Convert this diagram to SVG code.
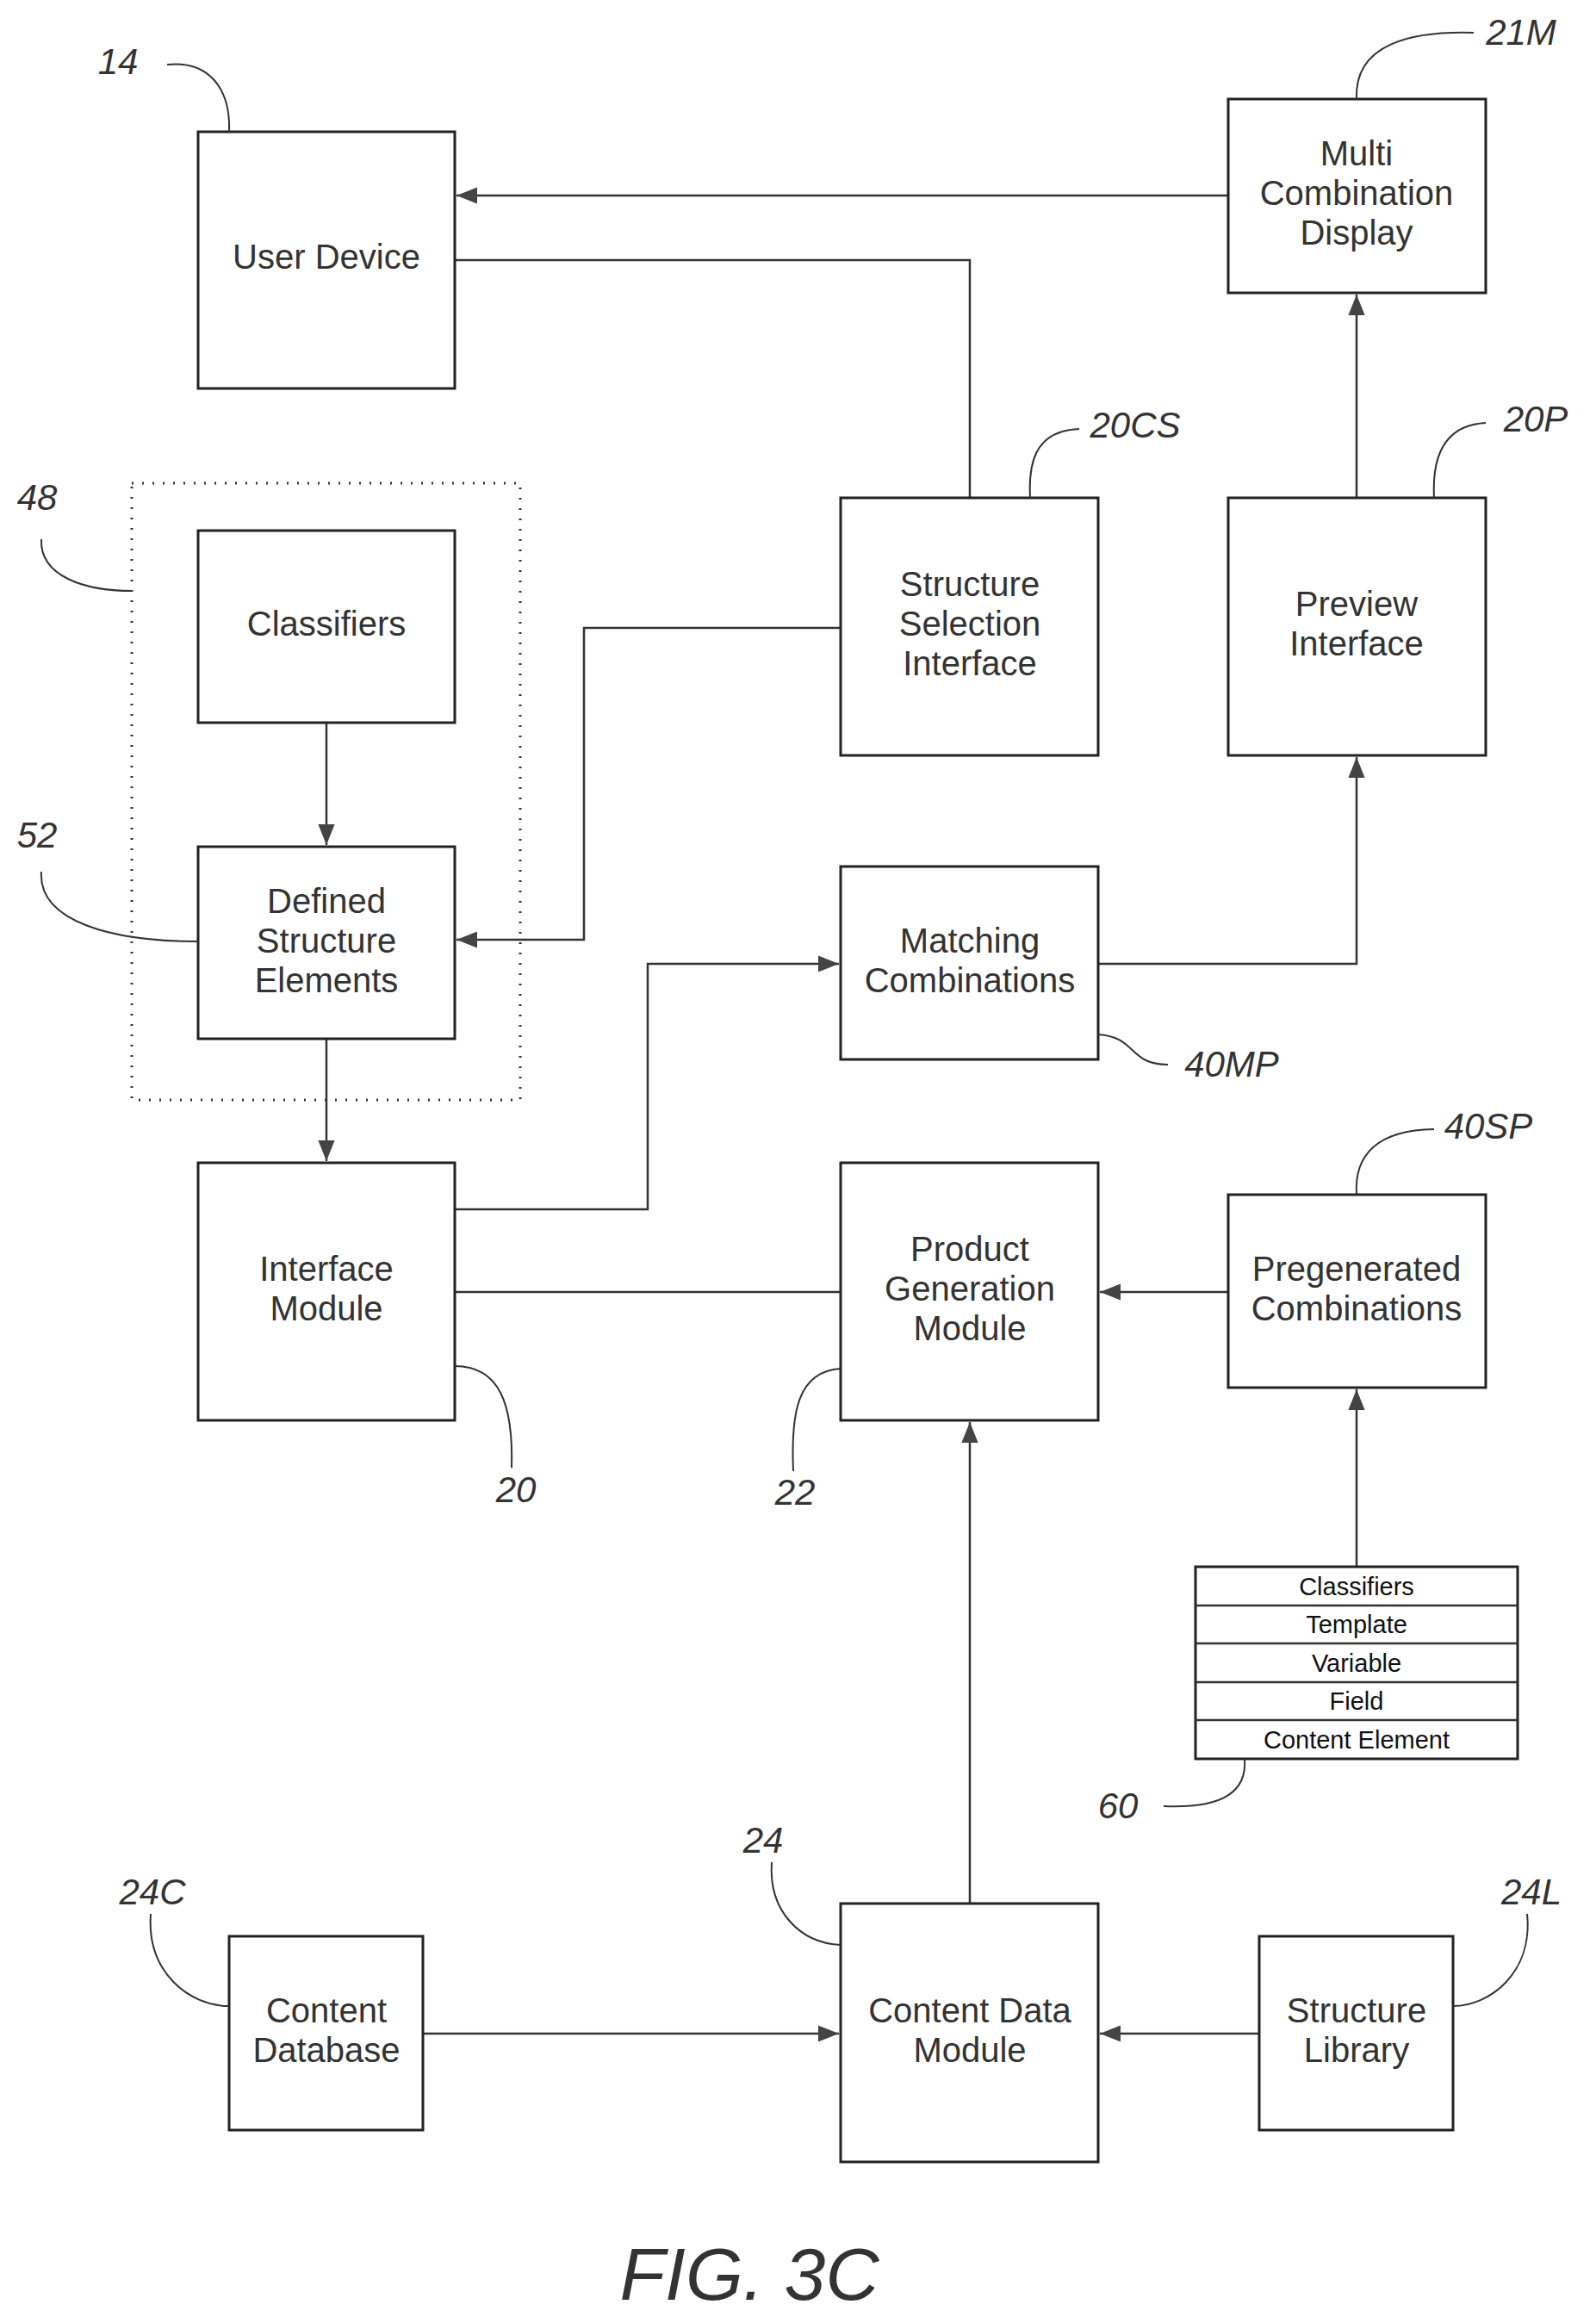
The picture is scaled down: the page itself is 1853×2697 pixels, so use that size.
<svg xmlns="http://www.w3.org/2000/svg" width="1853" height="2697" viewBox="0 0 1853 2697">
<style>
.b{fill:#fff;stroke:#222;stroke-width:3}
.t{font-family:"Liberation Sans",Arial,sans-serif;font-size:40px;fill:#333;text-anchor:middle}
.s{font-family:"Liberation Sans",Arial,sans-serif;font-size:29px;fill:#111;text-anchor:middle}
.r{font-family:"Liberation Sans",Arial,sans-serif;font-size:42px;font-style:italic;fill:#333;text-anchor:middle}
.c{fill:none;stroke:#333;stroke-width:2.5}
.l{fill:none;stroke:#333;stroke-width:2}
</style>
<defs><marker id="a" viewBox="0 0 10 10" refX="10" refY="5" markerWidth="9" markerHeight="9" markerUnits="userSpaceOnUse" orient="auto"><path d="M0,0L10,5L0,10z" fill="#444"/></marker>
<marker id="A" viewBox="0 0 10 10" refX="10" refY="5" markerWidth="24" markerHeight="24" markerUnits="userSpaceOnUse" orient="auto"><path d="M0,1L10,5L0,9z" fill="#444"/></marker></defs>
<rect x="153" y="561" width="451" height="716" fill="none" stroke="#333" stroke-width="3" stroke-dasharray="2 10"/>
<g id="connectors">
<path class="c" d="M1426,227H530" marker-end="url(#A)"/>
<path class="c" d="M528,302H1126V578"/>
<path class="c" d="M976,729H678V1091H530" marker-end="url(#A)"/>
<path class="c" d="M379,839V981" marker-end="url(#A)"/>
<path class="c" d="M379,1206V1348" marker-end="url(#A)"/>
<path class="c" d="M528,1404H752V1119H974" marker-end="url(#A)"/>
<path class="c" d="M1275,1119H1575V879" marker-end="url(#A)"/>
<path class="c" d="M1575,578V342" marker-end="url(#A)"/>
<path class="c" d="M528,1500H976"/>
<path class="c" d="M1426,1500H1277" marker-end="url(#A)"/>
<path class="c" d="M1575,1819V1613" marker-end="url(#A)"/>
<path class="c" d="M1126,2210V1651" marker-end="url(#A)"/>
<path class="c" d="M491,2361H974" marker-end="url(#A)"/>
<path class="c" d="M1462,2361H1277" marker-end="url(#A)"/>
</g>
<g id="userdevice"><rect class="b" x="230" y="153" width="298" height="298"/><text class="t" x="379" y="312">User Device</text></g>
<g id="multi"><rect class="b" x="1426" y="115" width="299" height="225"/><text class="t" x="1575" y="192">Multi</text><text class="t" x="1575" y="238">Combination</text><text class="t" x="1575" y="284">Display</text></g>
<g id="ssi"><rect class="b" x="976" y="578" width="299" height="299"/><text class="t" x="1126" y="692">Structure</text><text class="t" x="1126" y="738">Selection</text><text class="t" x="1126" y="784">Interface</text></g>
<g id="preview"><rect class="b" x="1426" y="578" width="299" height="299"/><text class="t" x="1575" y="715">Preview</text><text class="t" x="1575" y="761">Interface</text></g>
<g id="classifiers"><rect class="b" x="230" y="616" width="298" height="223"/><text class="t" x="379" y="738">Classifiers</text></g>
<g id="defined"><rect class="b" x="230" y="983" width="298" height="223"/><text class="t" x="379" y="1060">Defined</text><text class="t" x="379" y="1106">Structure</text><text class="t" x="379" y="1152">Elements</text></g>
<g id="matching"><rect class="b" x="976" y="1006" width="299" height="224"/><text class="t" x="1126" y="1106">Matching</text><text class="t" x="1126" y="1152">Combinations</text></g>
<g id="interface"><rect class="b" x="230" y="1350" width="298" height="299"/><text class="t" x="379" y="1487">Interface</text><text class="t" x="379" y="1533">Module</text></g>
<g id="product"><rect class="b" x="976" y="1350" width="299" height="299"/><text class="t" x="1126" y="1464">Product</text><text class="t" x="1126" y="1510">Generation</text><text class="t" x="1126" y="1556">Module</text></g>
<g id="pregen"><rect class="b" x="1426" y="1387" width="299" height="224"/><text class="t" x="1575" y="1487">Pregenerated</text><text class="t" x="1575" y="1533">Combinations</text></g>
<g id="table">
<rect class="b" x="1388" y="1819" width="374" height="223"/>
<path class="c" d="M1388,1864H1762M1388,1908H1762M1388,1953H1762M1388,1997H1762" stroke-width="3"/>
<text class="s" x="1575" y="1852">Classifiers</text><text class="s" x="1575" y="1896">Template</text><text class="s" x="1575" y="1941">Variable</text><text class="s" x="1575" y="1985">Field</text><text class="s" x="1575" y="2030">Content Element</text>
</g>
<g id="contentdb"><rect class="b" x="266" y="2248" width="225" height="225"/><text class="t" x="379" y="2348">Content</text><text class="t" x="379" y="2394">Database</text></g>
<g id="contentdata"><rect class="b" x="976" y="2210" width="299" height="300"/><text class="t" x="1126" y="2348">Content Data</text><text class="t" x="1126" y="2394">Module</text></g>
<g id="library"><rect class="b" x="1462" y="2248" width="225" height="225"/><text class="t" x="1575" y="2348">Structure</text><text class="t" x="1575" y="2394">Library</text></g>
<g id="labels">
<text class="r" x="137" y="86">14</text><path class="l" d="M194,75C240,70 268,100 266,153"/>
<text class="r" x="1766" y="52">21M</text><path class="l" d="M1711,38C1640,36 1572,50 1575,115"/>
<text class="r" x="1318" y="508">20CS</text><path class="l" d="M1253,498C1200,500 1194,540 1196,578"/>
<text class="r" x="1783" y="501">20P</text><path class="l" d="M1725,491C1670,494 1663,540 1665,578"/>
<text class="r" x="43" y="592">48</text><path class="l" d="M48,626C46,670 100,686 153,686"/>
<text class="r" x="43" y="984">52</text><path class="l" d="M48,1012C44,1070 130,1093 230,1093"/>
<text class="r" x="1430" y="1250">40MP</text><path class="l" d="M1275,1201C1320,1204 1310,1236 1356,1236"/>
<text class="r" x="1728" y="1322">40SP</text><path class="l" d="M1665,1311C1600,1312 1572,1340 1575,1387"/>
<text class="r" x="599" y="1744">20</text><path class="l" d="M528,1586C580,1586 596,1630 594,1704"/>
<text class="r" x="923" y="1747">22</text><path class="l" d="M976,1589C926,1592 918,1640 921,1708"/>
<text class="r" x="1298" y="2111">60</text><path class="l" d="M1351,2097C1420,2100 1448,2080 1445,2042"/>
<text class="r" x="886" y="2151">24</text><path class="l" d="M896,2162C892,2220 930,2256 976,2258"/>
<text class="r" x="177" y="2211">24C</text><path class="l" d="M175,2222C170,2290 220,2329 266,2329"/>
<text class="r" x="1778" y="2211">24L</text><path class="l" d="M1773,2222C1780,2290 1730,2329 1687,2329"/>
<text class="r" x="870" y="2670" style="font-size:86px">FIG. 3C</text>
</g>
</svg>
